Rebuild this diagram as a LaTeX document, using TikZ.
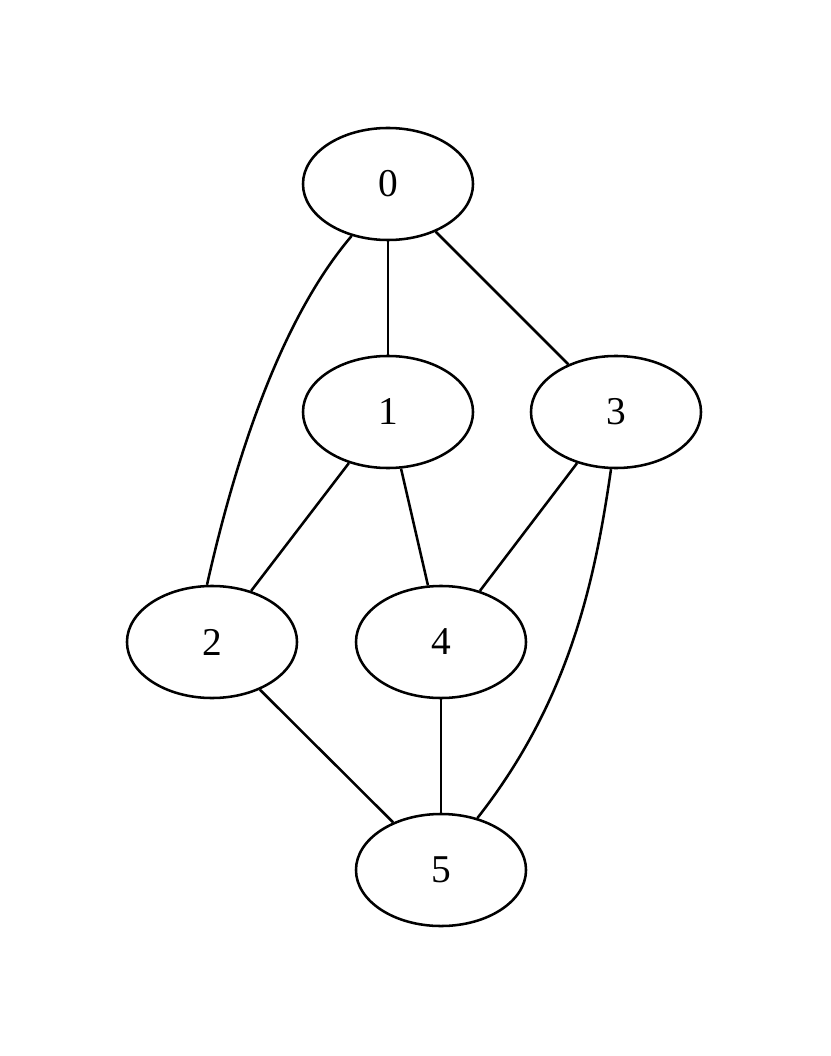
\documentclass[tikz,border=0pt]{standalone}
\usepackage{fontspec}
\setmainfont{Liberation Serif}
\usetikzlibrary{shapes.geometric}
\begin{document}
\begin{tikzpicture}[x=0.025cm, y=-0.025cm, line width=1.8pt,
    vertex/.style={draw, ellipse, minimum width=4.25cm, minimum height=2.8cm, inner sep=0pt, font=\fontsize{28}{30}\selectfont}]
    \useasboundingbox (0,0) rectangle (830,1056);
    \node[vertex] (n0) at (388,184) {0};
    \node[vertex] (n1) at (388,412) {1};
    \node[vertex] (n3) at (616,412) {3};
    \node[vertex] (n2) at (212,642) {2};
    \node[vertex] (n4) at (441,642) {4};
    \node[vertex] (n5) at (441,870) {5};
    \draw (n0) -- (n1);
    \draw (n0) -- (n3);
    \draw (n0.235) .. controls (280,320) and (235,460) .. (n2.95);
    \draw (n1) -- (n2);
    \draw (n1) -- (n4);
    \draw (n3) -- (n4);
    \draw (n3.265) .. controls (595,580) and (570,700) .. (n5.55);
    \draw (n2) -- (n5);
    \draw (n4) -- (n5);
\end{tikzpicture}
\end{document}
